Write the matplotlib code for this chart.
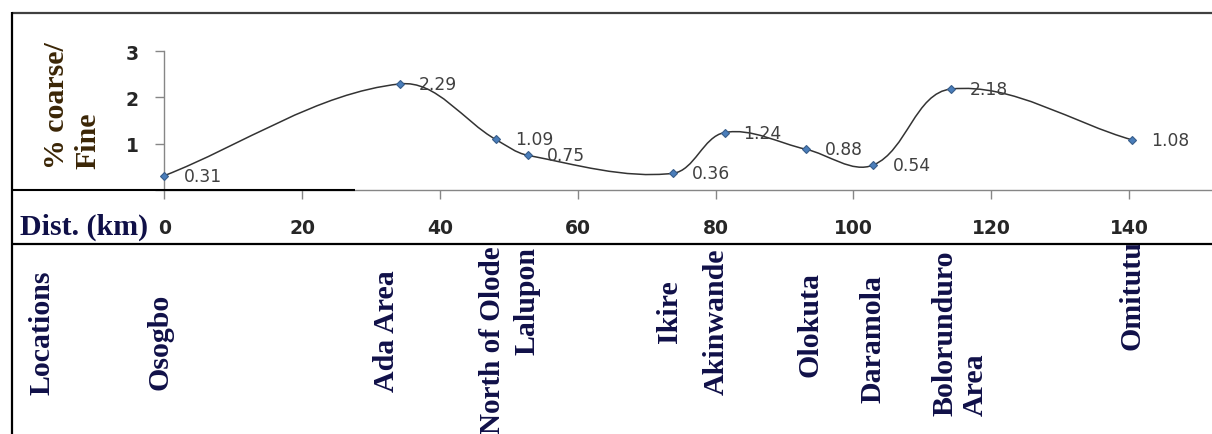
import numpy as np
import matplotlib.pyplot as plt
from matplotlib.path import Path
from matplotlib.patches import PathPatch
from matplotlib.lines import Line2D

# data
dist_km = [0, 34.2, 48.1, 52.7, 73.8, 81.3, 93.1, 102.9, 114.2, 140.5]
ratio = [0.31, 2.29, 1.09, 0.75, 0.36, 1.24, 0.88, 0.54, 2.18, 1.08]
x_ticks = [0, 20, 40, 60, 80, 100, 120, 140]
y_ticks = [1, 2, 3]
locations = ['Osogbo', 'Ada Area', 'North of Olode', 'Lalupon', 'Ikire',
             'Akinwande', 'Olokuta', 'Daramola', 'Bolorunduro\nArea', 'Omitutu']

# label layout (pixel centre x, pixel bottom y, font size) for the location row
loc_x = [160, 386, 493, 527, 669, 716, 810, 873, 960, 1132]
loc_bottom = [390, 392, 434, 355, 343, 395, 377, 403, 416, 350]
loc_size = [21.5, 21.5, 21, 21.5, 21.5, 21.5, 21.5, 21.5, 21.5, 21.5]

W, H = 1212, 435
NAVY = '#101048'
SERIF = 'Liberation Serif'

x0_px, y0_px, x_per, y_top = 164.4, 191, 6.89, 52
y_per = (y0_px - y_top) / 3


def fx(px):
    return px / W


def fy(py):
    return 1 - py / H


def smooth_path(x, y):
    # smoothed line: cubic Bezier, tangent along neighbours, handle length
    # tied to each segment's own length (worked out in screen scale)
    p = np.column_stack([np.asarray(x) * x_per, np.asarray(y) * y_per])
    n = len(p)
    tang = np.zeros_like(p)
    for i in range(n):
        d = p[min(i + 1, n - 1)] - p[max(i - 1, 0)]
        tang[i] = d / np.hypot(*d)
    verts = [p[0]]
    codes = [Path.MOVETO]
    for i in range(n - 1):
        seg = np.hypot(*(p[i + 1] - p[i]))
        verts += [p[i] + tang[i] * seg / 3, p[i + 1] - tang[i + 1] * seg / 3, p[i + 1]]
        codes += [Path.CURVE4] * 3
    v = np.array(verts) / [x_per, y_per]
    return Path(v, codes)


fig = plt.figure(figsize=(W / 100, H / 100), dpi=100)

ax = fig.add_axes([fx(x0_px), fy(y0_px), 1 - fx(x0_px), (y0_px - y_top) / H])
ax.set_xlim(0, (W - x0_px) / x_per)
ax.set_ylim(0, 3)

ax.add_patch(PathPatch(smooth_path(dist_km, ratio), facecolor='none',
                       edgecolor='#333333', lw=1.1, zorder=2))
ax.plot(dist_km, ratio, ls='none', marker='D', ms=4.5, mfc='#4a7ebb',
        mec='#385d8a', mew=0.8, zorder=3, clip_on=False)

for xv, yv in zip(dist_km, ratio):
    ax.annotate(f'{yv:.2f}', (xv, yv), xytext=(19, 0), textcoords='offset pixels',
                ha='left', va='center', fontsize=12.3, color='#404040')

for s in ['top', 'right']:
    ax.spines[s].set_visible(False)
for s in ['left', 'bottom']:
    ax.spines[s].set_color('#868686')
    ax.spines[s].set_linewidth(1.0)

ax.set_xticks(x_ticks)
ax.set_xticklabels([str(v) for v in x_ticks])
ax.set_yticks([0] + y_ticks)
ax.set_yticklabels([''] + [str(v) for v in y_ticks])
ax.tick_params(axis='x', length=6.5, width=1, color='#868686', pad=14,
               labelsize=13.5, labelcolor='#262626')
ax.tick_params(axis='y', length=6.5, width=1, color='#868686', pad=12,
               labelsize=13.5, labelcolor='#262626')
for lab in ax.get_xticklabels() + ax.get_yticklabels():
    lab.set_fontweight('bold')

# y label, two lines rotated
fig.text(fx(72), fy(169), '% coarse/\nFine', rotation=90, ha='center', va='bottom',
         multialignment='left', family=SERIF, fontweight='bold', fontsize=21.5,
         color='#3b2606', linespacing=1.2)

# table-like frame around the chart
frame = dict(transform=fig.transFigure, solid_capstyle='butt')
fig.add_artist(Line2D([fx(12), 1], [fy(14), fy(14)], color='#404040', lw=1.6, **frame))
fig.add_artist(Line2D([fx(12), fx(12)], [fy(13), 0], color='black', lw=1.6, **frame))
fig.add_artist(Line2D([fx(12), fx(355)], [fy(191), fy(191)], color='black', lw=1.5, **frame))
fig.add_artist(Line2D([fx(12), 1], [fy(245), fy(245)], color='black', lw=1.6, **frame))

fig.text(fx(20), fy(227), 'Dist. (km)', ha='left', va='center', family=SERIF,
         fontweight='bold', fontsize=21.5, color=NAVY)

# location row, clipped below the separator line
lab_ax = fig.add_axes([fx(13), 0, 1 - fx(13), fy(246)])
lab_ax.set_xlim(13, W)
lab_ax.set_ylim(H, 246)
lab_ax.axis('off')
lab_ax.text(42, 395, 'Locations', rotation=90, ha='center', va='bottom',
            family=SERIF, fontweight='bold', fontsize=21.5, color=NAVY)
for name, xp, yb, fs in zip(locations, loc_x, loc_bottom, loc_size):
    lab_ax.text(xp, yb, name, rotation=90, ha='center', va='bottom',
                multialignment='left', family=SERIF, fontweight='bold',
                fontsize=fs, color=NAVY, linespacing=1.15, clip_on=True)

fig.savefig('out.png', dpi=100)
